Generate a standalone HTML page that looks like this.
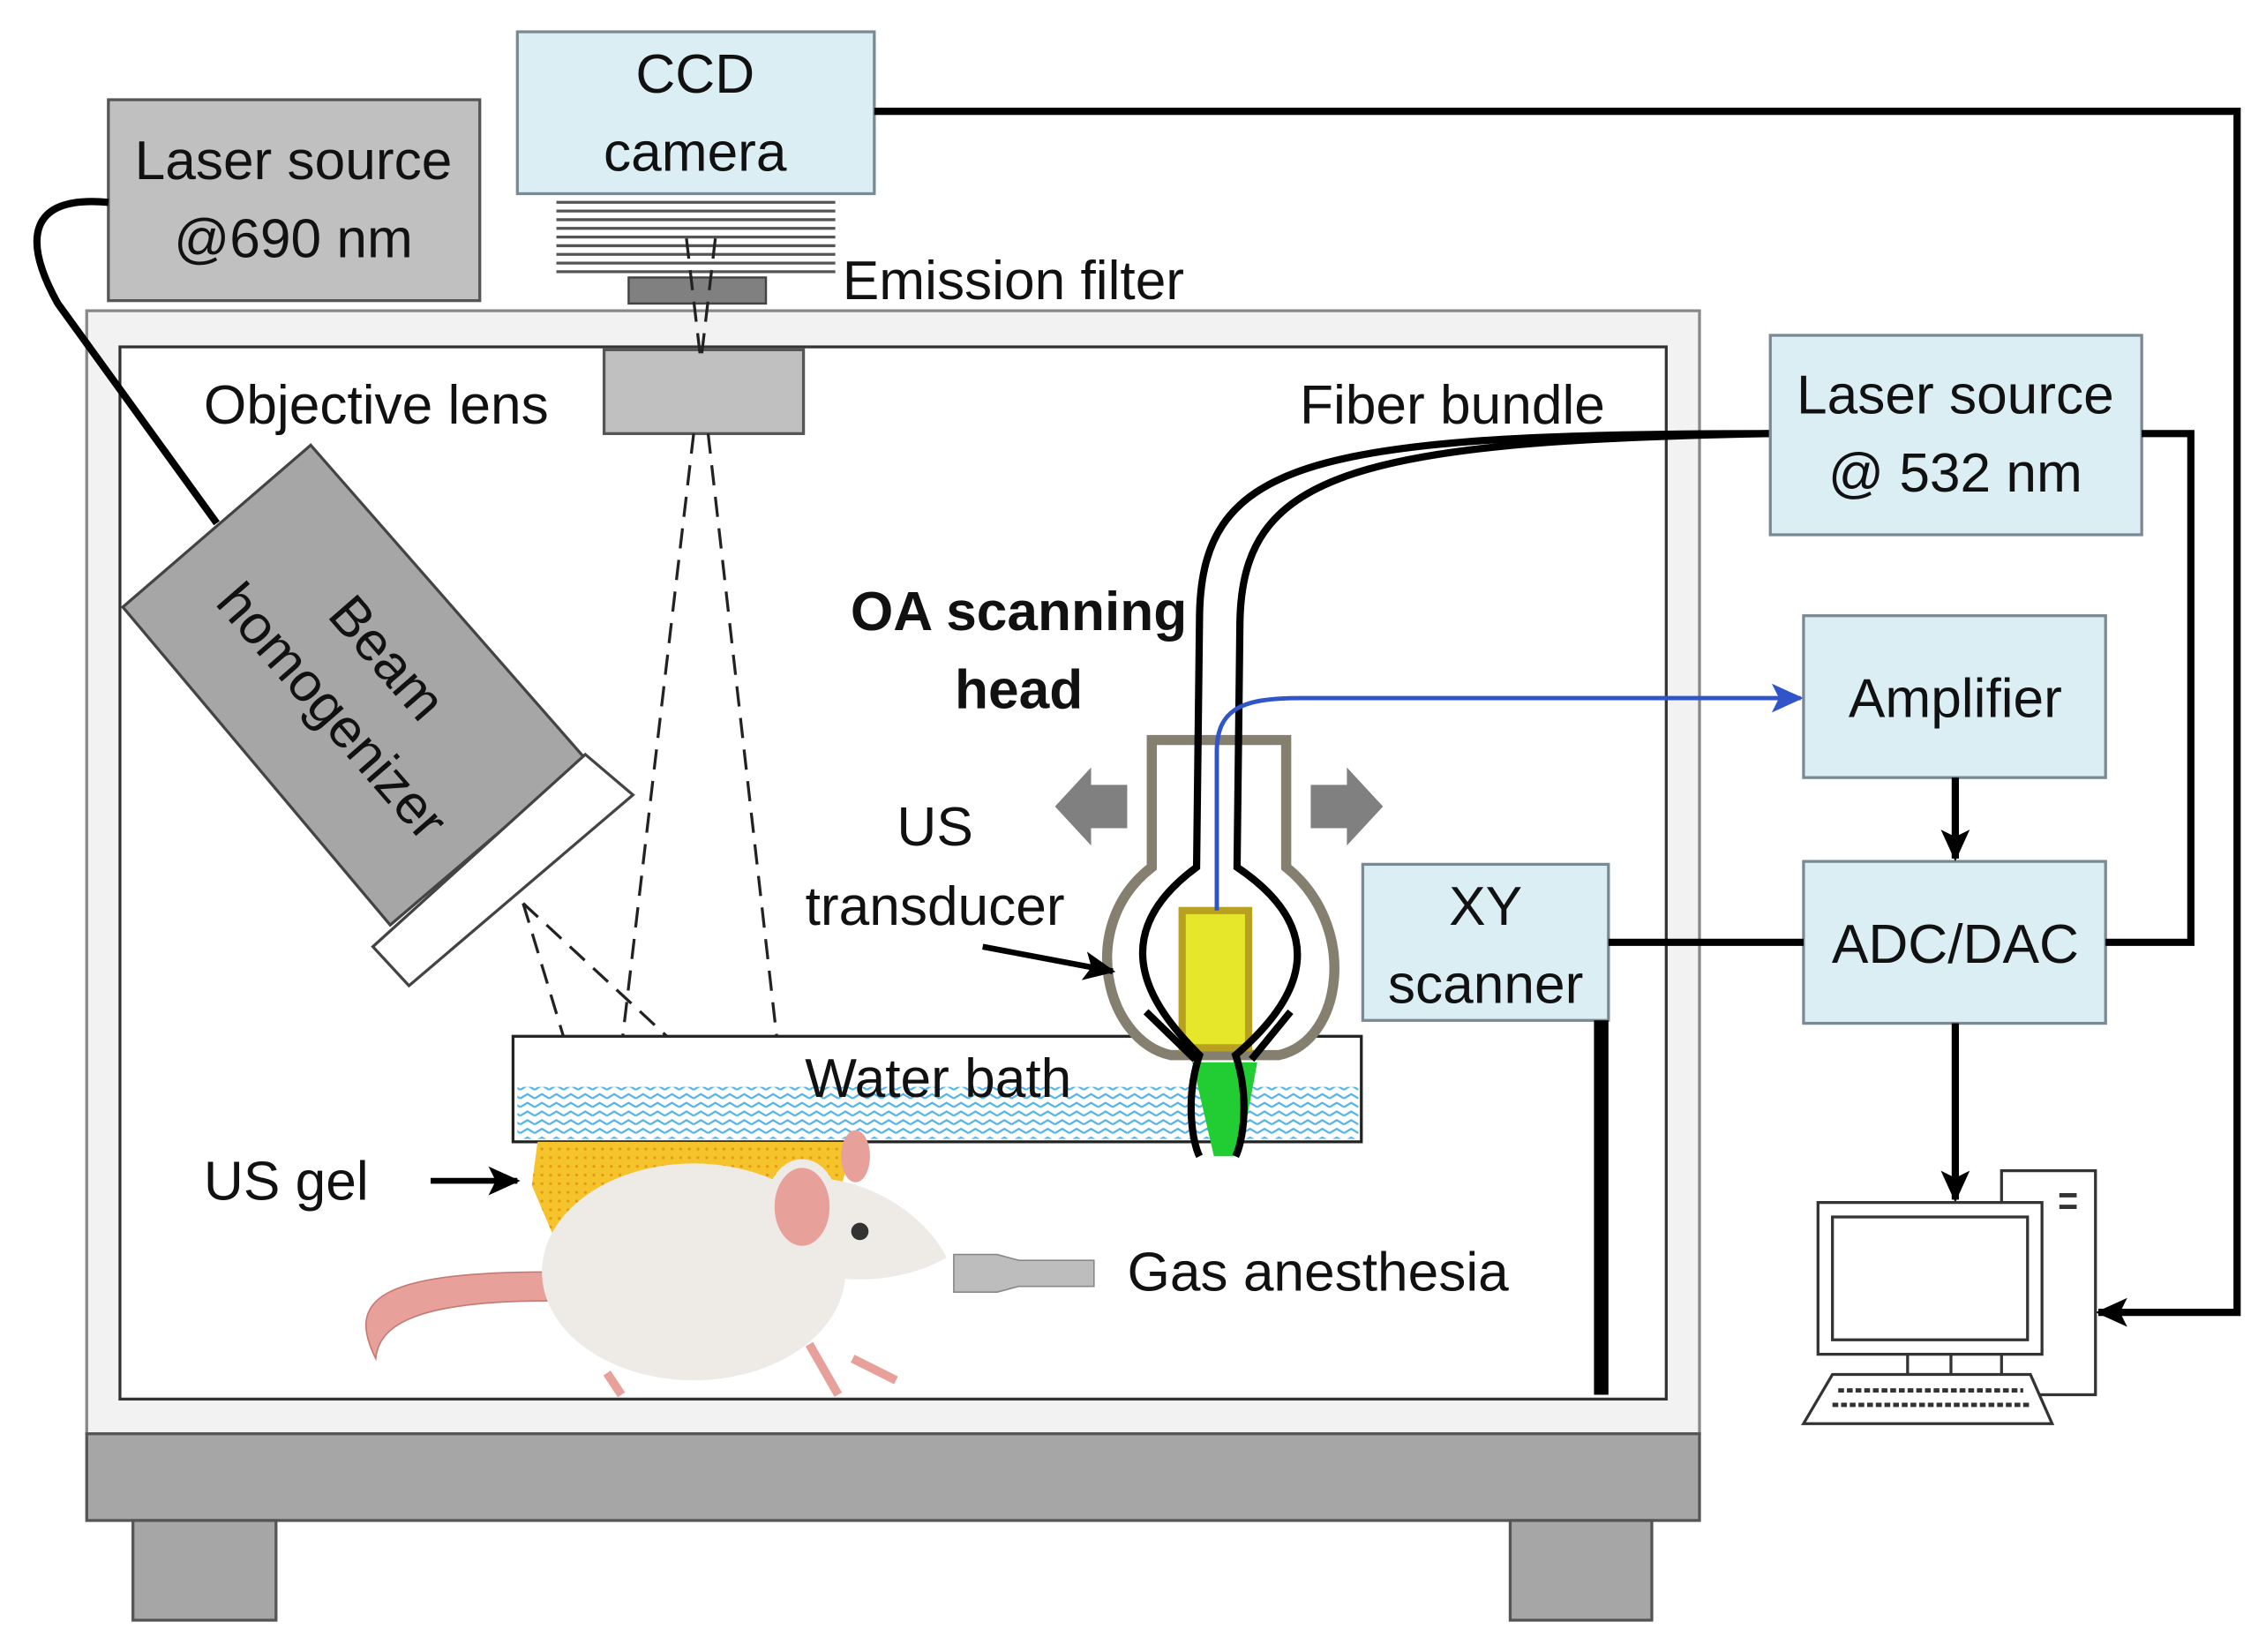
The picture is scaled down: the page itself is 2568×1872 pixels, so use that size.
<!DOCTYPE html>
<html><head><meta charset="utf-8"><style>
html,body{margin:0;padding:0;background:#fff;}
svg{display:block;}
text{font-family:"Liberation Sans","DejaVu Sans",sans-serif;fill:#111;}
</style></head><body>
<svg width="2568" height="1872" viewBox="0 0 1568 1143" preserveAspectRatio="none" xmlns="http://www.w3.org/2000/svg">
<defs>
<marker id="ab" markerWidth="22" markerHeight="20" refX="20" refY="10" orient="auto" markerUnits="userSpaceOnUse"><path d="M0,0 L22,10 L0,20 L5,10 Z" fill="#2f55c8"/></marker>
<marker id="ak" markerWidth="22" markerHeight="20" refX="20" refY="10" orient="auto" markerUnits="userSpaceOnUse"><path d="M0,0 L22,10 L0,20 L5,10 Z" fill="#000"/></marker>
<pattern id="wave" width="10" height="6" patternUnits="userSpaceOnUse"><rect width="10" height="6" fill="#fff"/><path d="M0,4 L5,1 L10,4" stroke="#4fb3e8" stroke-width="1.3" fill="none"/></pattern>
<pattern id="gel" width="6" height="6" patternUnits="userSpaceOnUse"><rect width="6" height="6" fill="#f5c42c"/><circle cx="3" cy="3" r="1" fill="#e39a10"/></pattern>
</defs>

<rect x="60" y="215" width="1116" height="777" fill="#f2f2f2" stroke="#888" stroke-width="2"/>
<rect x="83" y="240" width="1070" height="728" fill="#fff" stroke="#333" stroke-width="2"/>
<rect x="60" y="992" width="1116" height="60" fill="#a6a6a6" stroke="#555" stroke-width="2"/>
<rect x="92" y="1052" width="99" height="69" fill="#a6a6a6" stroke="#555" stroke-width="2"/>
<rect x="1045" y="1052" width="98" height="69" fill="#a6a6a6" stroke="#555" stroke-width="2"/>

<rect x="358" y="22" width="247" height="112" fill="#dbeef4" stroke="#7a8a95" stroke-width="2"/>
<text x="481" y="64" font-size="38" text-anchor="middle">CCD</text>
<text x="481" y="118" font-size="38" text-anchor="middle">camera</text>
<g stroke="#555" stroke-width="2">
<line x1="385" y1="140" x2="578" y2="140"/><line x1="385" y1="146" x2="578" y2="146"/><line x1="385" y1="152" x2="578" y2="152"/><line x1="385" y1="158" x2="578" y2="158"/><line x1="385" y1="164" x2="578" y2="164"/><line x1="385" y1="170" x2="578" y2="170"/><line x1="385" y1="176" x2="578" y2="176"/><line x1="385" y1="182" x2="578" y2="182"/><line x1="385" y1="188" x2="578" y2="188"/>
</g>
<rect x="435" y="192" width="95" height="18" fill="#808080" stroke="#444" stroke-width="1.5"/>
<text x="583" y="207" font-size="38">Emission filter</text>

<rect x="75" y="69" width="257" height="139" fill="#c0c0c0" stroke="#555" stroke-width="2"/>
<text x="203" y="124" font-size="38" text-anchor="middle">Laser source</text>
<text x="203" y="178" font-size="38" text-anchor="middle">@690 nm</text>
<path d="M75,140 C20,135 15,165 40,210 L150,362" fill="none" stroke="#000" stroke-width="5"/>

<rect x="418" y="242" width="138" height="58" fill="#c0c0c0" stroke="#555" stroke-width="2"/>
<text x="141" y="293" font-size="38">Objective lens</text>

<g stroke="#222" stroke-width="2" stroke-dasharray="14,8" fill="none">
<line x1="475" y1="165" x2="485" y2="250"/><line x1="495" y1="165" x2="485" y2="250"/>
<line x1="480" y1="300" x2="420" y2="810"/><line x1="490" y1="300" x2="548" y2="810"/>
<line x1="362" y1="625" x2="418" y2="810"/><line x1="362" y1="625" x2="562" y2="810"/>
</g>

<polygon points="85,420 215,308 405,525 270,640" fill="#a6a6a6" stroke="#444" stroke-width="2"/>
<polygon points="258,655 405,522 438,550 283,682" fill="#fff" stroke="#444" stroke-width="2"/>
<text transform="translate(268,455) rotate(49)" font-size="38" text-anchor="middle" dy="13">Beam</text>
<text transform="translate(230,492) rotate(49)" font-size="38" text-anchor="middle" dy="13">homogenizer</text>

<rect x="355" y="717" width="587" height="73" fill="#fff" stroke="#222" stroke-width="2"/>
<rect x="358" y="752" width="582" height="36" fill="url(#wave)"/>
<text x="557" y="759" font-size="38">Water bath</text>

<path d="M372,790 L590,790 L580,830 L440,870 L385,860 L368,820 Z" fill="url(#gel)"/>
<text x="141" y="830" font-size="38">US gel</text>
<line x1="298" y1="817" x2="358" y2="817" stroke="#000" stroke-width="4" marker-end="url(#ak)"/>

<path d="M380,880 C260,880 240,900 260,940 C262,920 280,900 380,900 Z" fill="#e8a09a" stroke="#c57a74"/>
<ellipse cx="480" cy="880" rx="105" ry="75" fill="#eeeae6"/>
<path d="M520,820 C590,800 640,840 655,870 C630,885 590,890 560,880 Z" fill="#eeeae6"/>
<ellipse cx="555" cy="835" rx="22" ry="30" fill="#e8a09a" stroke="#eeeae6" stroke-width="6"/>
<ellipse cx="592" cy="800" rx="10" ry="18" fill="#e8a09a"/>
<circle cx="595" cy="852" r="6" fill="#333"/>
<path d="M420,950 L430,965 M560,930 L580,965 M590,940 L620,955" stroke="#e8a09a" stroke-width="6"/>
<path d="M660,868 L690,868 L705,872 L757,872 L757,890 L705,890 L690,894 L660,894 Z" fill="#bdbdbd" stroke="#888"/>
<text x="780" y="893" font-size="38">Gas anesthesia</text>

<text x="705" y="436" font-size="38" font-weight="bold" text-anchor="middle">OA scanning</text>
<text x="705" y="490" font-size="38" font-weight="bold" text-anchor="middle">head</text>
<path d="M797,512 L890,512 L890,600 C940,640 930,720 885,730 L810,730 C765,720 745,640 797,600 Z" fill="#fff" stroke="#857f6f" stroke-width="7"/>
<polygon points="825,735 870,735 858,800 840,800" fill="#22cc33"/>
<rect x="818" y="630" width="46" height="95" fill="#e6e62a" stroke="#b8a020" stroke-width="5"/>
<polygon points="780,543 780,573 755,573 755,585 730,558 755,531 755,543" fill="#808080"/>
<polygon points="907,543 907,573 932,573 932,585 957,558 932,531 932,543" fill="#808080"/>
<text x="647" y="585" font-size="38" text-anchor="middle">US</text>
<text x="647" y="640" font-size="38" text-anchor="middle">transducer</text>
<line x1="680" y1="655" x2="770" y2="672" stroke="#000" stroke-width="4" marker-end="url(#ak)"/>

<text x="1005" y="293" font-size="38" text-anchor="middle">Fiber bundle</text>
<g fill="none" stroke="#000" stroke-width="5">
<path d="M1225,300 C900,300 830,320 830,430 L828,600 C760,650 800,700 830,730 C820,760 825,790 830,800"/>
<path d="M1225,300 C930,305 860,330 858,430 L856,600 C930,650 890,700 855,730 C865,760 860,790 855,800"/>
</g>
<line x1="793" y1="700" x2="827" y2="733" stroke="#000" stroke-width="5"/>
<line x1="893" y1="700" x2="866" y2="733" stroke="#000" stroke-width="5"/>
<path d="M842,630 L842,520 C842,490 860,483 900,483 L1246,483" fill="none" stroke="#2f55c8" stroke-width="3" marker-end="url(#ab)"/>

<rect x="1225" y="232" width="257" height="138" fill="#dbeef4" stroke="#7a8a95" stroke-width="2"/>
<text x="1353" y="286" font-size="38" text-anchor="middle">Laser source</text>
<text x="1353" y="340" font-size="38" text-anchor="middle">@ 532 nm</text>
<rect x="1248" y="426" width="209" height="112" fill="#dbeef4" stroke="#7a8a95" stroke-width="2"/>
<text x="1353" y="496" font-size="38" text-anchor="middle">Amplifier</text>
<rect x="1248" y="596" width="209" height="112" fill="#dbeef4" stroke="#7a8a95" stroke-width="2"/>
<text x="1353" y="666" font-size="38" text-anchor="middle">ADC/DAC</text>
<rect x="943" y="598" width="170" height="108" fill="#dbeef4" stroke="#7a8a95" stroke-width="2"/>
<text x="1028" y="640" font-size="38" text-anchor="middle">XY</text>
<text x="1028" y="694" font-size="38" text-anchor="middle">scanner</text>
<line x1="1108" y1="706" x2="1108" y2="965" stroke="#000" stroke-width="10"/>

<g fill="none" stroke="#000" stroke-width="5">
<path d="M1482,300 L1516,300 L1516,652 L1457,652"/>
<line x1="1113" y1="652" x2="1248" y2="652"/>
<path d="M605,77 L1548,77 L1548,908 L1452,908" marker-end="url(#ak)"/>
<line x1="1353" y1="538" x2="1353" y2="594" marker-end="url(#ak)"/>
<line x1="1353" y1="708" x2="1353" y2="830" marker-end="url(#ak)"/>
</g>

<rect x="1385" y="810" width="65" height="155" fill="#fff" stroke="#333" stroke-width="2"/>
<line x1="1425" y1="827" x2="1437" y2="827" stroke="#333" stroke-width="3"/>
<line x1="1425" y1="835" x2="1437" y2="835" stroke="#333" stroke-width="3"/>
<rect x="1258" y="832" width="155" height="105" fill="#fff" stroke="#333" stroke-width="2"/>
<rect x="1268" y="842" width="135" height="85" fill="#fff" stroke="#333" stroke-width="2"/>
<rect x="1320" y="937" width="30" height="14" fill="#fff" stroke="#333" stroke-width="2"/>
<polygon points="1268,951 1405,951 1420,985 1248,985" fill="#fff" stroke="#333" stroke-width="2"/>
<g stroke="#333" stroke-width="3" stroke-dasharray="4,2"><line x1="1272" y1="962" x2="1400" y2="962"/><line x1="1268" y1="972" x2="1405" y2="972"/></g>
</svg>
</body></html>
